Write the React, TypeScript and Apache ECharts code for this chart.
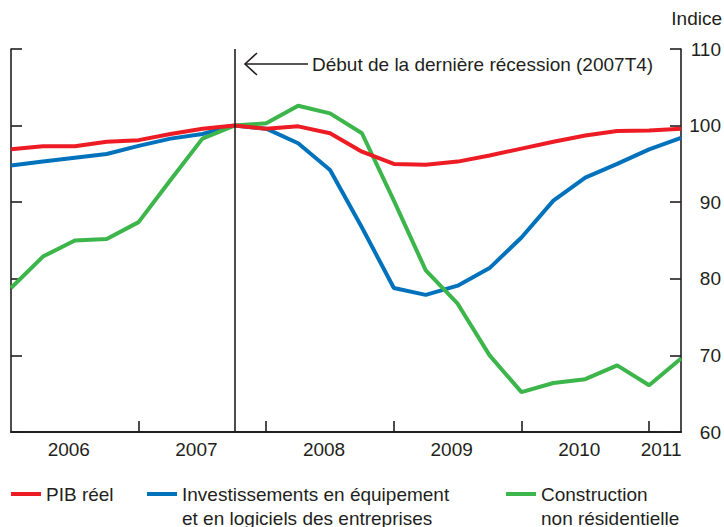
import { useEffect, useRef } from 'react';
import * as echarts from 'echarts';

const quarters = [
  '2006T1', '2006T2', '2006T3', '2006T4',
  '2007T1', '2007T2', '2007T3', '2007T4',
  '2008T1', '2008T2', '2008T3', '2008T4',
  '2009T1', '2009T2', '2009T3', '2009T4',
  '2010T1', '2010T2', '2010T3', '2010T4',
  '2011T1', '2011T2',
];

const pibReel = [96.9, 97.3, 97.3, 97.9, 98.1, 98.9, 99.6, 100, 99.6, 99.9, 99.0, 96.6, 95.0, 94.9, 95.3, 96.1, 97.0, 97.9, 98.7, 99.3, 99.35, 99.6];
const investissements = [94.8, 95.3, 95.8, 96.3, 97.35, 98.3, 98.9, 100, 99.6, 97.7, 94.2, 86.7, 78.8, 77.9, 79.1, 81.4, 85.4, 90.2, 93.2, 95.0, 96.9, 98.4];
const construction = [78.8, 82.9, 85.0, 85.2, 87.4, 92.9, 98.3, 100, 100.3, 102.6, 101.6, 99.0, 90.2, 81.1, 76.75, 70.0, 65.2, 66.4, 66.9, 68.7, 66.1, 69.6];

const seriesNames = ['PIB réel', 'Investissements', 'Construction'];
const legendLines = [
  ['PIB réel'],
  ['Investissements en équipement', 'et en logiciels des entreprises'],
  ['Construction', 'non résidentielle'],
];
const yearLabels: Record<number, string> = { 2: '2006', 6: '2007', 10: '2008', 14: '2009', 18: '2010', 20: '2011' };
const recessionStart = '2007T4';
const annotation = 'Début de la dernière récession (2007T4)';
const unitLabel = 'Indice';

const INK = '#231f20';
const RED = '#ed1c24';
const BLUE = '#0072bc';
const GREEN = '#3cb54a';
const FONT = '"Liberation Sans", Arial, Helvetica, sans-serif';
const FS = 19;

export default function App() {
  const ref = useRef<HTMLDivElement>(null);
  useEffect(() => {
    const chart = echarts.init(ref.current!, null, { renderer: 'svg' });
    const yBase = {
      type: 'value' as const,
      min: 60,
      max: 110,
      interval: 10,
      splitLine: { show: false },
      axisLine: { show: true, lineStyle: { color: INK, width: 1.6 } },
      axisTick: { show: true, inside: true, length: 11, lineStyle: { color: INK, width: 1.6 } },
    };
    // Multi-line labels: an empty first line keeps the first real line centred on the icon.
    const legendText = (name: string) => {
      const lines = legendLines[seriesNames.indexOf(name)];
      return lines.length > 1 ? [' ', ...lines].join('\n') : lines[0];
    };
    const legendCommon = {
      orient: 'horizontal' as const,
      padding: 0,
      icon: 'rect',
      itemWidth: 30,
      itemHeight: 4,
      selectedMode: false,
      formatter: legendText,
      textStyle: { fontSize: FS, fontFamily: FONT, color: INK, lineHeight: 24 },
    };
    const option: any = {
      animation: false,
      backgroundColor: '#ffffff',
      textStyle: { fontFamily: FONT, color: INK },
      grid: { left: 11, right: 41, top: 49, bottom: 95, containLabel: false },
      xAxis: {
        type: 'category',
        data: quarters,
        boundaryGap: false,
        axisLine: { show: true, onZero: false, lineStyle: { color: INK, width: 2 } },
        axisTick: {
          show: true,
          inside: true,
          length: 11,
          interval: (i: number) => i > 0 && i % 4 === 0,
          lineStyle: { color: INK, width: 1.6 },
        },
        axisLabel: {
          interval: (i: number) => yearLabels[i] !== undefined,
          margin: 8,
          formatter: (_v: string, i: number) => (i === 20 ? `{b|${yearLabels[i]}}` : `{a|${yearLabels[i]}}`),
          rich: {
            a: { fontSize: FS, fontFamily: FONT, color: INK, padding: [0, 12, 0, 0] },
            b: { fontSize: FS, fontFamily: FONT, color: INK, padding: [0, 0, 0, 24] },
          },
        },
        splitLine: { show: false },
      },
      yAxis: [
        {
          ...yBase,
          position: 'right',
          axisLabel: { show: true, fontSize: FS, fontFamily: FONT, color: INK, align: 'right', margin: 40 },
        },
        {
          ...yBase,
          position: 'left',
          axisLabel: { show: false },
        },
      ],
      legend: [
        { ...legendCommon, left: 11, top: 482, data: [seriesNames[0]] },
        { ...legendCommon, left: 147, top: 458, data: [seriesNames[1]] },
        { ...legendCommon, left: 506, top: 458, data: [seriesNames[2]] },
      ],
      graphic: [
        {
          type: 'text',
          right: 2,
          top: 9,
          style: { text: unitLabel, fontSize: FS, fontFamily: FONT, fill: INK },
        },
        {
          type: 'line',
          shape: { x1: 245, y1: 64, x2: 308, y2: 64 },
          style: { stroke: INK, lineWidth: 1.6 },
        },
        {
          type: 'polyline',
          shape: { points: [[257, 53], [245, 64], [257, 75]] },
          style: { stroke: INK, lineWidth: 1.6, fill: 'none' },
        },
        {
          type: 'text',
          x: 312,
          y: 64,
          style: { text: annotation, fontSize: FS, fontFamily: FONT, fill: INK, verticalAlign: 'middle' },
        },
      ],
      series: [
        {
          name: seriesNames[1],
          type: 'line',
          data: investissements,
          symbol: 'none',
          color: BLUE,
          lineStyle: { color: BLUE, width: 4 },
          z: 2,
        },
        {
          name: seriesNames[2],
          type: 'line',
          data: construction,
          symbol: 'none',
          color: GREEN,
          lineStyle: { color: GREEN, width: 4 },
          z: 3,
        },
        {
          name: seriesNames[0],
          type: 'line',
          data: pibReel,
          symbol: 'none',
          color: RED,
          lineStyle: { color: RED, width: 4 },
          z: 4,
          markLine: {
            silent: true,
            symbol: 'none',
            label: { show: false },
            lineStyle: { color: INK, width: 1.6, type: 'solid' },
            data: [{ xAxis: recessionStart }],
          },
        },
      ],
    };
    chart.setOption(option);
    return () => chart.dispose();
  }, []);
  return (
    <div
      ref={ref}
      style={{ position: 'absolute', left: 0, top: 0, width: 724, height: 527, background: '#fff' }}
    />
  );
}
